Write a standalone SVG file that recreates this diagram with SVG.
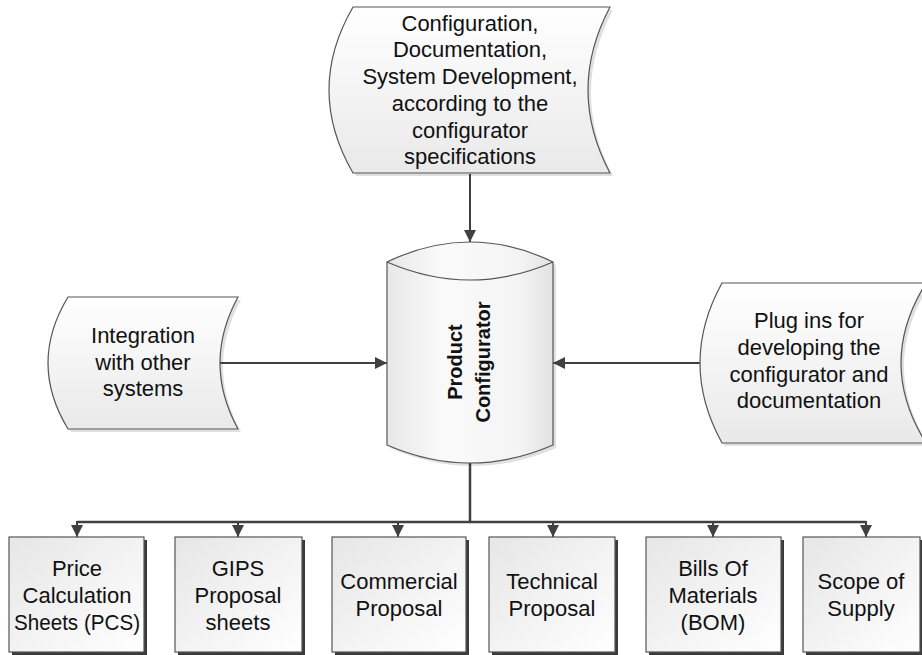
<svg xmlns="http://www.w3.org/2000/svg" width="922" height="655" viewBox="0 0 922 655">
<defs>
<linearGradient id="gv" x1="0" y1="0" x2="0" y2="1"><stop offset="0" stop-color="#ffffff"/><stop offset="1" stop-color="#e9e9e9"/></linearGradient>
<linearGradient id="gb" x1="0" y1="0" x2="1" y2="1"><stop offset="0" stop-color="#e6e6e6"/><stop offset="1" stop-color="#ffffff"/></linearGradient>
<linearGradient id="gc" x1="0" y1="0" x2="1" y2="0"><stop offset="0" stop-color="#e8e8e8"/><stop offset="0.35" stop-color="#fafafa"/><stop offset="0.8" stop-color="#f4f4f4"/><stop offset="1" stop-color="#e2e2e2"/></linearGradient>
<marker id="ah" viewBox="0 0 10 10" refX="10" refY="5" markerWidth="6" markerHeight="6" orient="auto" markerUnits="strokeWidth"><path d="M0,0 L10,5 L0,10 Z" fill="#404040"/></marker>
</defs>
<style>
.sh{fill:#000;opacity:0.12}
.nd{stroke:#555;stroke-width:1.2}
.bx{fill:url(#gb);stroke:#555;stroke-width:1.2}
.bs{fill:#3a3a3a}
.t{font-family:"Liberation Sans",Arial,sans-serif;font-size:22px;fill:#111;text-anchor:middle}
.tb{font-family:"Liberation Sans",Arial,sans-serif;font-size:20px;font-weight:bold;fill:#111;text-anchor:middle}
.cn{fill:none;stroke:#404040;stroke-width:2}
</style>
<rect width="922" height="655" fill="#fff"/>
<g id="connectors">
<line class="cn" x1="470" y1="174" x2="470" y2="242" marker-end="url(#ah)"/>
<line class="cn" x1="220" y1="363" x2="387" y2="363" marker-end="url(#ah)"/>
<line class="cn" x1="700" y1="363" x2="553" y2="363" marker-end="url(#ah)"/>
<polyline class="cn" points="470,463 470,522" style="stroke-width:2.5"/>
<line class="cn" x1="77" y1="522" x2="866" y2="522" style="stroke-width:2.5"/>
<line class="cn" x1="77" y1="521" x2="77" y2="537" marker-end="url(#ah)"/>
<line class="cn" x1="238" y1="521" x2="238" y2="537" marker-end="url(#ah)"/>
<line class="cn" x1="398" y1="521" x2="398" y2="537" marker-end="url(#ah)"/>
<line class="cn" x1="553" y1="521" x2="553" y2="537" marker-end="url(#ah)"/>
<line class="cn" x1="713" y1="521" x2="713" y2="537" marker-end="url(#ah)"/>
<line class="cn" x1="866" y1="521" x2="866" y2="537" marker-end="url(#ah)"/>
</g>
<g id="top-node">
<path class="sh" d="M356,10 L613,10 Q569,93 613,176 L356,176 Q308,93 356,10 Z"/>
<path class="nd" fill="url(#gv)" d="M353,7 L610,7 Q566,90 610,173 L353,173 Q305,90 353,7 Z"/>
<text class="t" x="470" y="31">Configuration,</text>
<text class="t" x="470" y="57">Documentation,</text>
<text class="t" x="470" y="84">System Development,</text>
<text class="t" x="470" y="111">according to the</text>
<text class="t" x="470" y="138">configurator</text>
<text class="t" x="470" y="164">specifications</text>
</g>
<g id="product-configurator">
<path class="sh" d="M390,265 Q473,225 556,265 L556,448 Q473,484 390,448 Z"/>
<path class="nd" fill="url(#gc)" d="M387,262 Q470,222 553,262 L553,445 Q470,481 387,445 Z"/>
<path fill="none" stroke="#555" stroke-width="1.2" d="M387,262 Q470,298 553,262"/>
<text class="tb" transform="translate(470,362) rotate(-90)" x="0" y="-8">Product</text>
<text class="tb" transform="translate(470,362) rotate(-90)" x="0" y="20">Configurator</text>
</g>
<g id="integration-node">
<path class="sh" d="M71,300 L241,300 Q205,366 241,432 L71,432 Q31,366 71,300 Z"/>
<path class="nd" fill="url(#gv)" d="M68,297 L238,297 Q202,363 238,429 L68,429 Q28,363 68,297 Z"/>
<text class="t" x="143" y="343">Integration</text>
<text class="t" x="143" y="370">with other</text>
<text class="t" x="143" y="396">systems</text>
</g>
<g id="plugins-node">
<path class="sh" d="M725,286 L929,286 Q879,366 929,446 L725,446 Q681,366 725,286 Z"/>
<path class="nd" fill="url(#gv)" d="M722,283 L926,283 Q876,363 926,443 L722,443 Q678,363 722,283 Z"/>
<text class="t" x="809" y="328">Plug ins for</text>
<text class="t" x="809" y="355">developing the</text>
<text class="t" x="809" y="382">configurator and</text>
<text class="t" x="809" y="408">documentation</text>
</g>
<g id="box-pcs">
<rect class="bs" x="12" y="540" width="135" height="115"/>
<rect class="bx" x="9" y="537" width="135" height="115"/>
<text class="t" x="77" y="576">Price</text>
<text class="t" x="77" y="603">Calculation</text>
<text class="t" x="77" y="630" textLength="126" lengthAdjust="spacingAndGlyphs">Sheets (PCS)</text>
</g>
<g id="box-gips">
<rect class="bs" x="178" y="540" width="127" height="115"/>
<rect class="bx" x="175" y="537" width="127" height="115"/>
<text class="t" x="238" y="576">GIPS</text>
<text class="t" x="238" y="603">Proposal</text>
<text class="t" x="238" y="630">sheets</text>
</g>
<g id="box-commercial">
<rect class="bs" x="335" y="540" width="134" height="115"/>
<rect class="bx" x="332" y="537" width="134" height="115"/>
<text class="t" x="399" y="589">Commercial</text>
<text class="t" x="399" y="616">Proposal</text>
</g>
<g id="box-technical">
<rect class="bs" x="492" y="540" width="126" height="115"/>
<rect class="bx" x="489" y="537" width="126" height="115"/>
<text class="t" x="552" y="589">Technical</text>
<text class="t" x="552" y="616">Proposal</text>
</g>
<g id="box-bom">
<rect class="bs" x="649" y="540" width="135" height="115"/>
<rect class="bx" x="646" y="537" width="135" height="115"/>
<text class="t" x="713" y="576">Bills Of</text>
<text class="t" x="713" y="603">Materials</text>
<text class="t" x="713" y="630">(BOM)</text>
</g>
<g id="box-scope">
<rect class="bs" x="806" y="540" width="117" height="115"/>
<rect class="bx" x="803" y="537" width="117" height="115"/>
<text class="t" x="861" y="589">Scope of</text>
<text class="t" x="861" y="616">Supply</text>
</g>
</svg>
